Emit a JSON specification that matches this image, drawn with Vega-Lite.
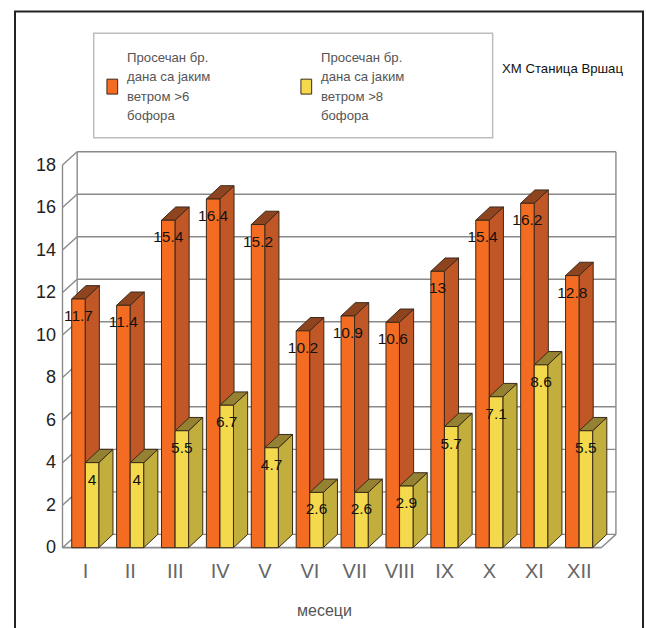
{
"$schema":"https://vega.github.io/schema/vega-lite/v6.json",
"autosize":{"type":"none"},
"padding":{"left":15,"top":11.5,"right":3,"bottom":0},
"width":628,"height":619,
"background":"white",
"config":{"view":{"stroke":"#222222","strokeWidth":2},"font":"Liberation Sans"},
"title":{"text":"ХМ Станица Вршац","anchor":"end","frame":"group","dx":-20,"offset":-65,"fontSize":13.2,"fontWeight":"normal","color":"#111111","font":"Liberation Sans"},
"datasets":{"bars":[
{"month":"I","m":0,"series":"Просечан бр.\nдана са јаким\nветром >6\nбофора","value":11.7},
{"month":"II","m":1,"series":"Просечан бр.\nдана са јаким\nветром >6\nбофора","value":11.4},
{"month":"III","m":2,"series":"Просечан бр.\nдана са јаким\nветром >6\nбофора","value":15.4},
{"month":"IV","m":3,"series":"Просечан бр.\nдана са јаким\nветром >6\nбофора","value":16.4},
{"month":"V","m":4,"series":"Просечан бр.\nдана са јаким\nветром >6\nбофора","value":15.2},
{"month":"VI","m":5,"series":"Просечан бр.\nдана са јаким\nветром >6\nбофора","value":10.2},
{"month":"VII","m":6,"series":"Просечан бр.\nдана са јаким\nветром >6\nбофора","value":10.9},
{"month":"VIII","m":7,"series":"Просечан бр.\nдана са јаким\nветром >6\nбофора","value":10.6},
{"month":"IX","m":8,"series":"Просечан бр.\nдана са јаким\nветром >6\nбофора","value":13},
{"month":"X","m":9,"series":"Просечан бр.\nдана са јаким\nветром >6\nбофора","value":15.4},
{"month":"XI","m":10,"series":"Просечан бр.\nдана са јаким\nветром >6\nбофора","value":16.2},
{"month":"XII","m":11,"series":"Просечан бр.\nдана са јаким\nветром >6\nбофора","value":12.8},
{"month":"I","m":0,"series":"Просечан бр.\nдана са јаким\nветром >8\nбофора","value":4},
{"month":"II","m":1,"series":"Просечан бр.\nдана са јаким\nветром >8\nбофора","value":4},
{"month":"III","m":2,"series":"Просечан бр.\nдана са јаким\nветром >8\nбофора","value":5.5},
{"month":"IV","m":3,"series":"Просечан бр.\nдана са јаким\nветром >8\nбофора","value":6.7},
{"month":"V","m":4,"series":"Просечан бр.\nдана са јаким\nветром >8\nбофора","value":4.7},
{"month":"VI","m":5,"series":"Просечан бр.\nдана са јаким\nветром >8\nбофора","value":2.6},
{"month":"VII","m":6,"series":"Просечан бр.\nдана са јаким\nветром >8\nбофора","value":2.6},
{"month":"VIII","m":7,"series":"Просечан бр.\nдана са јаким\nветром >8\nбофора","value":2.9},
{"month":"IX","m":8,"series":"Просечан бр.\nдана са јаким\nветром >8\nбофора","value":5.7},
{"month":"X","m":9,"series":"Просечан бр.\nдана са јаким\nветром >8\nбофора","value":7.1},
{"month":"XI","m":10,"series":"Просечан бр.\nдана са јаким\nветром >8\nбофора","value":8.6},
{"month":"XII","m":11,"series":"Просечан бр.\nдана са јаким\nветром >8\nбофора","value":5.5}
],
"ticks":[{"tick":0},{"tick":2},{"tick":4},{"tick":6},{"tick":8},{"tick":10},{"tick":12},{"tick":14},{"tick":16},{"tick":18}],
"one":[{"part":"frame"}]},
"layer":[
{"data":{"name":"one"},"mark":{"type":"rect","fill":"white","stroke":"#bdbdbd","strokeWidth":1.5},
 "encoding":{"x":{"datum":0.695,"type":"quantitative","scale":{"domain":[-1.058,12.93],"nice":false,"zero":false},
   "axis":{"values":[0.5,1.5,2.5,3.5,4.5,5.5,6.5,7.5,8.5,9.5,10.5,11.5],"labelExpr":"['I','II','III','IV','V','VI','VII','VIII','IX','X','XI','XII'][floor(datum.value)]","grid":false,"ticks":false,"domain":false,"offset":-83,"labelPadding":14,"labelFontSize":20,"labelColor":"#666666","labelFlush":false,"labelOverlap":false,"title":"месеци","titleFontSize":16,"titleFontWeight":"normal","titleColor":"#555555","titlePadding":21,"titleX":309}},
  "x2":{"datum":9.581},
  "y":{"datum":24.2,"type":"quantitative","scale":{"domain":[-3.895,25.22],"nice":false,"zero":false},
   "axis":{"values":[0,2,4,6,8,10,12,14,16,18],"grid":false,"ticks":false,"domain":false,"offset":-47.5,"labelPadding":7,"labelFontSize":18,"labelColor":"#222222","title":null}},
  "y2":{"datum":19.285}}},
{"data":{"name":"bars"},
 "transform":[{"aggregate":[{"op":"count","as":"n"}],"groupby":["series"]},{"calculate":"split(datum.series,'\\n')","as":"lines"},{"calculate":"indexof(datum.series,'>6')>=0?1.4365:5.757","as":"lx"}],
 "mark":{"type":"text","align":"left","baseline":"middle","fontSize":13.2,"lineHeight":19.3,"color":"#555555"},
 "encoding":{"x":{"field":"lx","type":"quantitative"},"y":{"datum":23.03,"type":"quantitative"},"text":{"field":"lines"}}},
{"data":{"name":"ticks"},"transform":[{"calculate":"datum.tick+0.626","as":"t2"}],
 "mark":{"type":"rule","color":"#8a8a8a","strokeWidth":1.4},
 "encoding":{"x":{"datum":0,"type":"quantitative"},"x2":{"datum":0.327},"y":{"field":"tick","type":"quantitative"},"y2":{"field":"t2"}}},
{"data":{"name":"ticks"},"transform":[{"calculate":"datum.tick+0.626","as":"t2"}],
 "mark":{"type":"rule","color":"#8a8a8a","strokeWidth":1.4},
 "encoding":{"x":{"datum":0.327,"type":"quantitative"},"x2":{"datum":12.327},"y":{"field":"t2","type":"quantitative"}}},
{"data":{"name":"one"},"mark":{"type":"rule","color":"#8a8a8a","strokeWidth":1.4},
 "encoding":{"x":{"datum":0,"type":"quantitative"},"y":{"datum":0,"type":"quantitative"},"y2":{"datum":18}}},
{"data":{"name":"one"},"mark":{"type":"rule","color":"#8a8a8a","strokeWidth":1.4},
 "encoding":{"x":{"datum":0.327,"type":"quantitative"},"y":{"datum":0.626,"type":"quantitative"},"y2":{"datum":18.626}}},
{"data":{"name":"one"},"mark":{"type":"rule","color":"#8a8a8a","strokeWidth":1.4},
 "encoding":{"x":{"datum":12.327,"type":"quantitative"},"y":{"datum":0.626,"type":"quantitative"},"y2":{"datum":18.626}}},
{"data":{"name":"one"},"mark":{"type":"rule","color":"#8a8a8a","strokeWidth":1.4},
 "encoding":{"x":{"datum":12,"type":"quantitative"},"x2":{"datum":12.327},"y":{"datum":0,"type":"quantitative"},"y2":{"datum":0.626}}},
{"data":{"name":"one"},"mark":{"type":"rule","color":"#8a8a8a","strokeWidth":1.8},
 "encoding":{"x":{"datum":0,"type":"quantitative"},"x2":{"datum":12},"y":{"datum":0,"type":"quantitative"}}},
{"data":{"name":"bars"},
 "transform":[{"calculate":"datum.m+(indexof(datum.series,'>6')>=0?0.205:0.508)","as":"a"},{"calculate":"[0,1]","as":"pt"},{"flatten":["pt"]},
  {"calculate":"datum.a+0.3+datum.pt*0.316","as":"sx"},{"calculate":"datum.pt*0.626","as":"sy0"},{"calculate":"datum.value+datum.pt*0.626","as":"sy1"}],
 "mark":{"type":"area","stroke":"#3a2a1a","strokeWidth":1,"interpolate":"linear"},
 "encoding":{"x":{"field":"sx","type":"quantitative"},"y":{"field":"sy1","type":"quantitative"},"y2":{"field":"sy0"},"detail":[{"field":"month"},{"field":"series"}],
  "fill":{"condition":{"test":"indexof(datum.series,'>6')>=0","value":"#C15726"},"value":"#C2AE3C"}}},
{"data":{"name":"bars"},
 "transform":[{"calculate":"datum.m+(indexof(datum.series,'>6')>=0?0.205:0.508)","as":"a"},{"calculate":"[0,1]","as":"pt"},{"flatten":["pt"]},
  {"calculate":"datum.a+datum.pt*0.316","as":"tx0"},{"calculate":"datum.a+0.3+datum.pt*0.316","as":"tx1"},{"calculate":"datum.value+datum.pt*0.626","as":"ty"}],
 "mark":{"type":"area","orient":"horizontal","stroke":"#3a2a1a","strokeWidth":1,"interpolate":"linear"},
 "encoding":{"y":{"field":"ty","type":"quantitative"},"x":{"field":"tx0","type":"quantitative"},"x2":{"field":"tx1"},"detail":[{"field":"month"},{"field":"series"}],
  "fill":{"condition":{"test":"indexof(datum.series,'>6')>=0","value":"#8F4420"},"value":"#948232"}}},
{"data":{"name":"bars"},
 "transform":[{"calculate":"datum.m+(indexof(datum.series,'>6')>=0?0.205:0.508)","as":"a"},{"calculate":"datum.a+0.3","as":"b"}],
 "mark":{"type":"rect","stroke":"#3a2a1a","strokeWidth":1},
 "encoding":{"x":{"field":"a","type":"quantitative"},"x2":{"field":"b"},"y":{"field":"value","type":"quantitative"},"y2":{"datum":0},
  "color":{"field":"series","type":"nominal","scale":{"range":["#F36C21","#F5D94C"]},
   "legend":{"orient":"none","legendX":81.8,"legendY":59.6,"direction":"horizontal","columns":2,"columnPadding":161,"title":null,"symbolType":"M-0.36,-0.5H0.36V0.5H-0.36Z","symbolSize":890,"symbolStrokeColor":"#3a2a1a","symbolStrokeWidth":1,"labelOffset":2,"labelFontSize":1,"labelOpacity":0,"labelExpr":"''"}}}},
{"data":{"name":"bars"},
 "transform":[{"calculate":"datum.m+(indexof(datum.series,'>6')>=0?0.205:0.508)+0.15","as":"c"}],
 "mark":{"type":"text","dy":17,"fontSize":15.5,"color":"#111111","align":"center","baseline":"middle"},
 "encoding":{"x":{"field":"c","type":"quantitative"},"y":{"field":"value","type":"quantitative"},"text":{"field":"value","type":"quantitative"}}}
]
}
